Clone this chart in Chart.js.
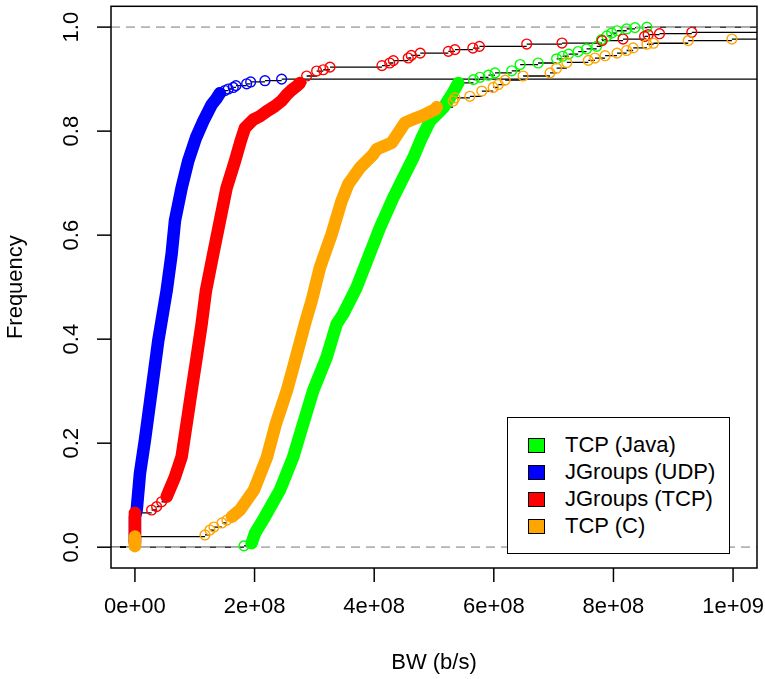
<!DOCTYPE html>
<html><head><meta charset="utf-8">
<script src="https://cdn.jsdelivr.net/npm/chart.js@4.4.1/dist/chart.umd.min.js"></script>
<style>
html,body{margin:0;padding:0;background:#fff;}
#wrap{position:relative;width:765px;height:679px;}
#legend{position:absolute;left:507px;top:417px;width:221px;height:135px;border:1.5px solid #000;background:#fff;font-family:"Liberation Sans",Arial,Helvetica,sans-serif;font-size:22px;color:#000;}
.row{position:absolute;left:0;height:26px;line-height:26px;width:100%;}
.sw{position:absolute;left:20px;top:6px;width:15px;height:13px;border:1px solid #000;}
.lab{position:absolute;left:57px;top:0;white-space:nowrap;}
</style></head>
<body><div id="wrap"><canvas id="c" width="765" height="679" style="width:765px;height:679px"></canvas><div id="legend"></div></div>
<script>
// ---- data (bandwidth in b/s, empirical cumulative frequency) ----
const seriesNames = ['TCP (Java)', 'JGroups (UDP)', 'JGroups (TCP)', 'TCP (C)'];
const seriesColors = ['#00ff00', '#0000ff', '#ff0000', '#ffa500'];

const greenBW = [1.823e8, 1.951e8, 2.007e8, 2.174e8, 2.425e8, 2.647e8, 2.814e8, 2.982e8, 3.206e8, 3.373e8, 3.483e8, 3.595e8, 3.707e8, 3.901e8, 4.097e8, 4.319e8, 4.487e8, 4.654e8, 4.794e8, 4.933e8, 5.155e8, 5.296e8, 5.406e8, 5.66e8, 5.77e8, 5.91e8, 6.02e8, 6.30e8, 6.44e8, 6.74e8, 7.05e8, 7.15e8, 7.25e8, 7.41e8, 7.55e8, 7.72e8, 7.80e8, 7.89e8, 7.97e8, 8.06e8, 8.22e8, 8.36e8, 8.56e8];
const greenFreq = [0.0025, 0.0077, 0.0268, 0.0587, 0.110, 0.1737, 0.2377, 0.3016, 0.3654, 0.4294, 0.4486, 0.474, 0.4996, 0.557, 0.6147, 0.672, 0.7105, 0.749, 0.787, 0.8192, 0.8447, 0.870, 0.8926, 0.899, 0.9035, 0.9075, 0.912, 0.916, 0.928, 0.931, 0.939, 0.944, 0.948, 0.953, 0.958, 0.963, 0.976, 0.983, 0.9885, 0.993, 0.9965, 0.999, 1.0];

const blueBW = [0, 0, 0, 0, 3e6, 8.4e6, 1.67e7, 2.79e7, 3.9e7, 5.3e7, 6.14e7, 6.69e7, 7.81e7, 8.91e7, 1.02e8, 1.142e8, 1.283e8, 1.36e8, 1.421e8, 1.505e8, 1.56e8, 1.644e8, 1.689e8, 1.868e8, 1.935e8, 2.174e8, 2.453e8];
const blueFreq = [0.01, 0.025, 0.04, 0.058, 0.0715, 0.142, 0.206, 0.3016, 0.397, 0.493, 0.564, 0.6275, 0.691, 0.7425, 0.787, 0.819, 0.851, 0.862, 0.873, 0.878, 0.881, 0.884, 0.8875, 0.891, 0.8945, 0.897, 0.900];

const redBW = [0, 0, 0, 0, 0, 2.79e7, 3.63e7, 4.46e7, 5.3e7, 6.69e7, 7.81e7, 8.65e7, 9.48e7, 1.032e8, 1.115e8, 1.187e8, 1.309e8, 1.421e8, 1.533e8, 1.672e8, 1.768e8, 1.839e8, 1.978e8, 2.09e8, 2.202e8, 2.341e8, 2.45e8, 2.537e8, 2.62e8, 2.70e8, 2.759e8, 2.871e8, 3.038e8, 3.149e8, 3.261e8, 4.13e8, 4.26e8, 4.32e8, 4.57e8, 4.62e8, 4.77e8, 5.24e8, 5.35e8, 5.65e8, 5.76e8, 6.55e8, 7.14e8, 7.81e8, 8.16e8, 8.52e8, 8.58e8, 8.77e8, 9.31e8];
const redFreq = [0.006, 0.02, 0.035, 0.05, 0.066, 0.0715, 0.078, 0.0874, 0.097, 0.135, 0.174, 0.238, 0.3016, 0.365, 0.429, 0.493, 0.564, 0.6275, 0.691, 0.7425, 0.781, 0.806, 0.822, 0.8286, 0.838, 0.848, 0.858, 0.870, 0.879, 0.886, 0.8926, 0.906, 0.9155, 0.918, 0.923, 0.926, 0.931, 0.9356, 0.9406, 0.9456, 0.950, 0.9534, 0.9567, 0.9597, 0.963, 0.9674, 0.9693, 0.974, 0.977, 0.982, 0.9854, 0.9873, 0.990];

const orangeBW = [0, 0, 0, 1.171e8, 1.254e8, 1.321e8, 1.455e8, 1.538e8, 1.622e8, 1.756e8, 1.99e8, 2.207e8, 2.358e8, 2.542e8, 2.692e8, 2.843e8, 2.955e8, 3.094e8, 3.289e8, 3.456e8, 3.567e8, 3.763e8, 3.985e8, 4.042e8, 4.293e8, 4.515e8, 4.71e8, 4.79e8, 5.02e8, 5.045e8, 5.32e8, 5.35e8, 5.60e8, 5.80e8, 5.99e8, 6.075e8, 6.19e8, 6.49e8, 6.94e8, 7.05e8, 7.22e8, 7.58e8, 7.69e8, 7.86e8, 8.06e8, 8.22e8, 8.33e8, 8.56e8, 8.67e8, 9.25e8, 9.98e8];
const orangeFreq = [0.002, 0.011, 0.0204, 0.0236, 0.033, 0.0387, 0.0466, 0.052, 0.0587, 0.0715, 0.110, 0.173, 0.238, 0.3016, 0.365, 0.430, 0.474, 0.538, 0.602, 0.666, 0.698, 0.7297, 0.7554, 0.765, 0.7776, 0.816, 0.8255, 0.829, 0.842, 0.846, 0.858, 0.864, 0.867, 0.877, 0.884, 0.8895, 0.898, 0.906, 0.912, 0.921, 0.932, 0.936, 0.9405, 0.945, 0.950, 0.955, 0.960, 0.967, 0.969, 0.974, 0.977];

// index ranges where the points are so dense they merge into a solid band
const greenDense = [[1, 22]];
const blueDense = [[0, 18]];
const redDense = [[0, 4], [8, 30]];
const orangeDense = [[0, 2], [8, 29]];

const xTicks = [0, 2e8, 4e8, 6e8, 8e8, 1e9];
const xTickLabels = ['0e+00', '2e+08', '4e+08', '6e+08', '8e+08', '1e+09'];
const yTicks = [0, 0.2, 0.4, 0.6, 0.8, 1.0];
const yTickLabels = ['0.0', '0.2', '0.4', '0.6', '0.8', '1.0'];
const X_MIN = -4e7, X_MAX = 1.04e9, Y_MIN = -0.04, Y_MAX = 1.04;

// ---- build datasets ----
const series = [
  {bw: greenBW, fr: greenFreq, dense: greenDense},
  {bw: blueBW, fr: blueFreq, dense: blueDense},
  {bw: redBW, fr: redFreq, dense: redDense},
  {bw: orangeBW, fr: orangeFreq, dense: orangeDense}
];

function inDense(dense, i) {
  return dense.some(r => r[0] <= i && i + 1 <= r[1]);
}
// horizontal segments of the ECDF step function (no verticals, like plot.ecdf)
function stepSegments(bw, fr, dense) {
  const pts = [{x: X_MIN, y: 0}, {x: bw[0], y: 0}, {x: bw[0], y: null}];
  for (let i = 0; i < bw.length; i++) {
    if (i < bw.length - 1 && inDense(dense, i)) continue;
    const xe = i < bw.length - 1 ? bw[i + 1] : X_MAX;
    pts.push({x: bw[i], y: fr[i]}, {x: xe, y: fr[i]}, {x: xe, y: null});
  }
  return pts;
}

const datasets = [];
series.forEach((s, k) => {
  datasets.push({
    data: stepSegments(s.bw, s.fr, s.dense), borderColor: '#000', borderWidth: 1.3,
    pointRadius: 0, spanGaps: false, tension: 0, order: 40 - k
  });
});
datasets.push({
  data: [{x: X_MIN, y: 0}, {x: X_MAX, y: 0}, {x: X_MAX, y: null}, {x: X_MIN, y: 1}, {x: X_MAX, y: 1}],
  borderColor: '#b3b3b3', borderWidth: 1.8, borderDash: [9, 6], pointRadius: 0, spanGaps: false, order: 30
});
series.forEach((s, k) => {
  const col = seriesColors[k];
  s.dense.forEach(r => {
    const d = [];
    for (let i = r[0]; i <= r[1]; i++) d.push({x: s.bw[i], y: s.fr[i]});
    datasets.push({
      data: d, borderColor: col, borderWidth: 12.5, borderCapStyle: 'round', borderJoinStyle: 'round',
      pointRadius: 0, tension: 0, order: 20 - 2 * k
    });
  });
  datasets.push({
    data: s.bw.map((v, i) => ({x: v, y: s.fr[i]})), showLine: false,
    pointRadius: 4.9, pointBorderWidth: 1.4, pointBorderColor: col, pointBackgroundColor: 'rgba(0,0,0,0)',
    order: 19 - 2 * k
  });
});

const FONT = '22px "Liberation Sans", Arial, Helvetica, sans-serif';
const axesPlugin = {
  id: 'rAxes',
  afterDraw(chart) {
    const {ctx, chartArea: a, scales: {x, y}} = chart;
    ctx.save();
    ctx.strokeStyle = '#000';
    ctx.lineWidth = 1.5;
    ctx.strokeRect(a.left, a.top, a.right - a.left, a.bottom - a.top);
    ctx.font = FONT;
    ctx.fillStyle = '#000';
    ctx.textAlign = 'center';
    ctx.textBaseline = 'middle';
    xTicks.forEach((v, i) => {
      const px = x.getPixelForValue(v);
      ctx.beginPath(); ctx.moveTo(px, a.bottom); ctx.lineTo(px, a.bottom + 14); ctx.stroke();
      ctx.fillText(xTickLabels[i], px, 607);
    });
    yTicks.forEach((v, i) => {
      const py = y.getPixelForValue(v);
      ctx.beginPath(); ctx.moveTo(a.left, py); ctx.lineTo(a.left - 14, py); ctx.stroke();
      ctx.save(); ctx.translate(72, py); ctx.rotate(-Math.PI / 2);
      ctx.fillText(yTickLabels[i], 0, 0); ctx.restore();
    });
    ctx.fillText('BW (b/s)', (a.left + a.right) / 2, 663);
    ctx.save(); ctx.translate(16, (a.top + a.bottom) / 2); ctx.rotate(-Math.PI / 2);
    ctx.fillText('Frequency', 0, 0); ctx.restore();
    ctx.restore();
  }
};

new Chart(document.getElementById('c'), {
  type: 'line',
  data: {datasets},
  options: {
    responsive: false, animation: false, devicePixelRatio: 1, events: [],
    layout: {padding: {left: 111, right: 8, top: 5, bottom: 111}},
    plugins: {legend: {display: false}, tooltip: {enabled: false}},
    scales: {
      x: {type: 'linear', min: X_MIN, max: X_MAX, display: false},
      y: {type: 'linear', min: Y_MIN, max: Y_MAX, display: false}
    }
  },
  plugins: [axesPlugin]
});

// legend
const lg = document.getElementById('legend');
seriesNames.forEach((n, i) => {
  const row = document.createElement('div');
  row.className = 'row';
  row.style.top = (14 + 27 * i) + 'px';
  row.innerHTML = '<div class="sw" style="background:' + seriesColors[i] + '"></div><span class="lab">' + n + '</span>';
  lg.appendChild(row);
});
</script>
</body></html>
